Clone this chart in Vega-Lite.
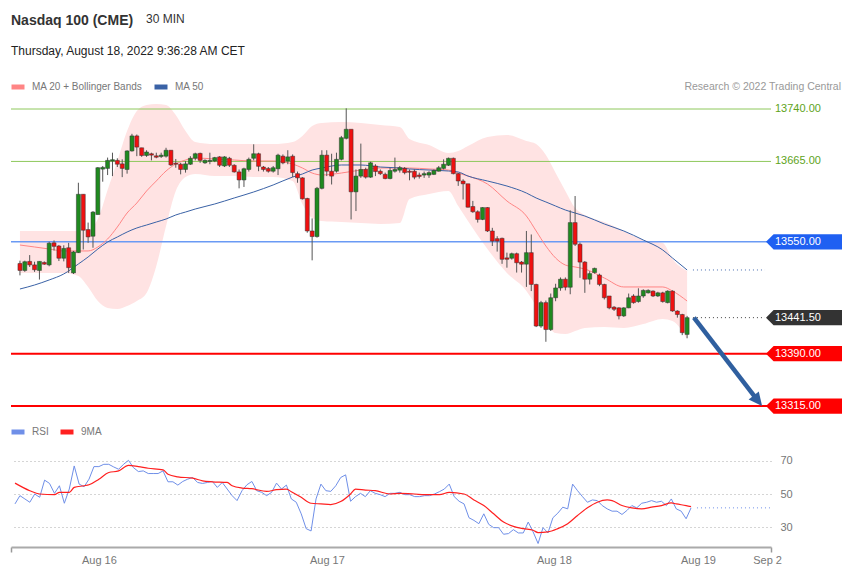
{
"$schema": "https://vega.github.io/schema/vega-lite/v6.json",
"background": "white",
"padding": {"left": 9, "top": 13, "right": 3, "bottom": 5},
"bounds": "flush",
"spacing": 25,
"resolve": {"scale": {"color": "independent"}, "legend": {"color": "independent"}},
"title": {"text": "Research © 2022 Trading Central", "anchor": "end", "frame": "group", "fontSize": 10.5, "fontWeight": "normal", "color": "#999999", "dx": 70, "dy": 79, "offset": 0},
"config": {"font": "Liberation Sans", "view": {"stroke": null}},
"datasets": {
"candles": [
{"i":0,"o":13519,"h":13523,"l":13502,"c":13509},{"i":1,"o":13509,"h":13523,"l":13507,"c":13521.5},{"i":2,"o":13522,"h":13531,"l":13514,"c":13517},{"i":3,"o":13517,"h":13521.5,"l":13507,"c":13510},{"i":4,"o":13509,"h":13522,"l":13496,"c":13522},{"i":5,"o":13520.5,"h":13522,"l":13517,"c":13518},{"i":6,"o":13517,"h":13550,"l":13515,"c":13548},{"i":7,"o":13548.5,"h":13552,"l":13537.5,"c":13543.5},{"i":8,"o":13544,"h":13545.5,"l":13522.5,"c":13526.5},{"i":9,"o":13526.5,"h":13545,"l":13522,"c":13540.5},
{"i":10,"o":13541.5,"h":13548.5,"l":13505.5,"c":13513},{"i":11,"o":13505.5,"h":13537,"l":13504,"c":13535.5},{"i":12,"o":13534.5,"h":13634.5,"l":13534,"c":13618},{"i":13,"o":13618,"h":13618,"l":13539,"c":13566.5},{"i":14,"o":13567.5,"h":13577.5,"l":13548.5,"c":13557},{"i":15,"o":13558,"h":13594,"l":13541.5,"c":13592.5},{"i":16,"o":13589,"h":13657,"l":13589,"c":13656},{"i":17,"o":13654,"h":13658.5,"l":13636,"c":13656.5},{"i":18,"o":13655,"h":13670.5,"l":13645.5,"c":13666.5},{"i":19,"o":13665.5,"h":13677.5,"l":13644,"c":13667.5},
{"i":20,"o":13666.5,"h":13669.5,"l":13657,"c":13661},{"i":21,"o":13661.5,"h":13668,"l":13642.5,"c":13655},{"i":22,"o":13653.5,"h":13681,"l":13647.5,"c":13680},{"i":23,"o":13680,"h":13704.5,"l":13679,"c":13701.5},{"i":24,"o":13701.5,"h":13703.5,"l":13672.5,"c":13685.5},{"i":25,"o":13684.5,"h":13684.5,"l":13671.5,"c":13673.5},{"i":26,"o":13673.5,"h":13681,"l":13671.5,"c":13678.5},{"i":27,"o":13676,"h":13677.5,"l":13666.5,"c":13674},{"i":28,"o":13673,"h":13677.5,"l":13669.5,"c":13671},{"i":29,"o":13672,"h":13677.5,"l":13670,"c":13674},
{"i":30,"o":13672.5,"h":13684.5,"l":13670.5,"c":13681},{"i":31,"o":13681,"h":13681,"l":13658.5,"c":13660},{"i":32,"o":13662.5,"h":13668.5,"l":13656,"c":13661},{"i":33,"o":13661,"h":13663,"l":13646.5,"c":13653.5},{"i":34,"o":13653.5,"h":13665.5,"l":13649,"c":13661.5},{"i":35,"o":13661,"h":13672.5,"l":13660,"c":13669.5},{"i":36,"o":13669.5,"h":13677.5,"l":13666.5,"c":13676},{"i":37,"o":13676.5,"h":13677.5,"l":13663,"c":13666.5},{"i":38,"o":13663,"h":13668,"l":13661.5,"c":13666.5},{"i":39,"o":13665,"h":13677.5,"l":13661,"c":13666.5},
{"i":40,"o":13665.5,"h":13671.5,"l":13664,"c":13670.5},{"i":41,"o":13671.5,"h":13672.5,"l":13657,"c":13659.5},{"i":42,"o":13658.5,"h":13672.5,"l":13657,"c":13671.5},{"i":43,"o":13669.5,"h":13671.5,"l":13657,"c":13659.5},{"i":44,"o":13659.5,"h":13661,"l":13649,"c":13650},{"i":45,"o":13650,"h":13653.5,"l":13626.5,"c":13638.5},{"i":46,"o":13638.5,"h":13656,"l":13628.5,"c":13654.5},{"i":47,"o":13653.5,"h":13670.5,"l":13650.5,"c":13668},{"i":48,"o":13669.5,"h":13689.5,"l":13666.5,"c":13676},{"i":49,"o":13676,"h":13677.5,"l":13651,"c":13658},
{"i":50,"o":13657,"h":13658.5,"l":13650.5,"c":13653.5},{"i":51,"o":13655,"h":13657,"l":13649,"c":13651},{"i":52,"o":13651,"h":13658.5,"l":13649,"c":13656},{"i":53,"o":13654.5,"h":13676,"l":13645.5,"c":13674},{"i":54,"o":13672.5,"h":13675,"l":13661,"c":13663},{"i":55,"o":13665.5,"h":13681,"l":13661,"c":13671.5},{"i":56,"o":13672.5,"h":13675,"l":13642.5,"c":13649},{"i":57,"o":13647.5,"h":13650.5,"l":13634.5,"c":13641.5},{"i":58,"o":13641.5,"h":13642.5,"l":13610.5,"c":13611.5},{"i":59,"o":13612,"h":13613,"l":13563,"c":13565.5},
{"i":60,"o":13565.5,"h":13583.5,"l":13523.5,"c":13557.5},{"i":61,"o":13557.5,"h":13628.5,"l":13556,"c":13626.5},{"i":62,"o":13626.5,"h":13681,"l":13625,"c":13674},{"i":63,"o":13674,"h":13681,"l":13644,"c":13651},{"i":64,"o":13651,"h":13676,"l":13632,"c":13644},{"i":65,"o":13651,"h":13677.5,"l":13649,"c":13668},{"i":66,"o":13668,"h":13701.5,"l":13666.5,"c":13699},{"i":67,"o":13698,"h":13741,"l":13696.5,"c":13711},{"i":68,"o":13711,"h":13711,"l":13582,"c":13621.5},{"i":69,"o":13621.5,"h":13653.5,"l":13594,"c":13644},
{"i":70,"o":13644,"h":13690.5,"l":13641.5,"c":13653.5},{"i":71,"o":13653.5,"h":13656,"l":13640.5,"c":13642.5},{"i":72,"o":13642.5,"h":13664.5,"l":13641.5,"c":13663},{"i":73,"o":13658.5,"h":13661,"l":13644,"c":13650.5},{"i":74,"o":13651,"h":13653.5,"l":13645.5,"c":13647.5},{"i":75,"o":13646.5,"h":13649,"l":13639.5,"c":13640.5},{"i":76,"o":13640.5,"h":13656,"l":13639.5,"c":13652},{"i":77,"o":13651,"h":13670.5,"l":13649,"c":13653.5},{"i":78,"o":13652.5,"h":13658.5,"l":13649,"c":13656},{"i":79,"o":13655,"h":13657,"l":13646.5,"c":13649},
{"i":80,"o":13651,"h":13653.5,"l":13638,"c":13649.5},{"i":81,"o":13651,"h":13653.5,"l":13639.5,"c":13642.5},{"i":82,"o":13645.5,"h":13649,"l":13640.5,"c":13643.5},{"i":83,"o":13645.5,"h":13650.5,"l":13641.5,"c":13647.5},{"i":84,"o":13645.5,"h":13651,"l":13641.5,"c":13649},{"i":85,"o":13646.5,"h":13653.5,"l":13645.5,"c":13652},{"i":86,"o":13651,"h":13658.5,"l":13650.5,"c":13656},{"i":87,"o":13655,"h":13668,"l":13653.5,"c":13661},{"i":88,"o":13659.5,"h":13670.5,"l":13658.5,"c":13669.5},{"i":89,"o":13669.5,"h":13670.5,"l":13646.5,"c":13647.5},
{"i":90,"o":13647.5,"h":13648.5,"l":13630,"c":13637},{"i":91,"o":13637,"h":13639.5,"l":13610.5,"c":13633},{"i":92,"o":13633,"h":13633,"l":13599,"c":13599.5},{"i":93,"o":13600.5,"h":13608.5,"l":13591.5,"c":13593},{"i":94,"o":13593,"h":13595,"l":13577.5,"c":13582},{"i":95,"o":13582,"h":13599.5,"l":13581,"c":13599},{"i":96,"o":13599,"h":13599.5,"l":13564,"c":13565.5},{"i":97,"o":13565.5,"h":13570,"l":13544,"c":13551},{"i":98,"o":13554.5,"h":13558,"l":13536,"c":13551},{"i":99,"o":13555,"h":13556,"l":13518.5,"c":13525},
{"i":100,"o":13527,"h":13534.5,"l":13513,"c":13525},{"i":101,"o":13526.5,"h":13534.5,"l":13524.5,"c":13533},{"i":102,"o":13533,"h":13534.5,"l":13506,"c":13520},{"i":103,"o":13521,"h":13522.5,"l":13506,"c":13518},{"i":104,"o":13518,"h":13565.5,"l":13485.5,"c":13534.5},{"i":105,"o":13534.5,"h":13560.5,"l":13479.5,"c":13489},{"i":106,"o":13489,"h":13490,"l":13428,"c":13429.5},{"i":107,"o":13429.5,"h":13465.5,"l":13427,"c":13463},{"i":108,"o":13463,"h":13466,"l":13407,"c":13424.5},{"i":109,"o":13424.5,"h":13476,"l":13422.5,"c":13470},
{"i":110,"o":13470,"h":13490,"l":13465,"c":13484},{"i":111,"o":13484,"h":13499,"l":13480,"c":13496.5},{"i":112,"o":13496.5,"h":13499,"l":13480.5,"c":13485},{"i":113,"o":13485,"h":13595,"l":13475,"c":13577.5},{"i":114,"o":13577.5,"h":13615.5,"l":13544,"c":13546.5},{"i":115,"o":13546.5,"h":13549,"l":13498.5,"c":13521},{"i":116,"o":13521,"h":13522.5,"l":13477,"c":13496.5},{"i":117,"o":13496.5,"h":13508,"l":13489,"c":13504.5},{"i":118,"o":13506,"h":13513,"l":13504.5,"c":13512},{"i":119,"o":13502.5,"h":13504.5,"l":13486.5,"c":13489},
{"i":120,"o":13489,"h":13490,"l":13467.5,"c":13470},{"i":121,"o":13472.5,"h":13472.5,"l":13453.5,"c":13455.5},{"i":122,"o":13456.5,"h":13458,"l":13451,"c":13453.5},{"i":123,"o":13455.5,"h":13456.5,"l":13439,"c":13444},{"i":124,"o":13444,"h":13456.5,"l":13442.5,"c":13455.5},{"i":125,"o":13455.5,"h":13476,"l":13455,"c":13470},{"i":126,"o":13472.5,"h":13475,"l":13461.5,"c":13463},{"i":127,"o":13464.5,"h":13483.5,"l":13463,"c":13472.5},{"i":128,"o":13472.5,"h":13482,"l":13470,"c":13480.5},{"i":129,"o":13477,"h":13482,"l":13476,"c":13480.5},
{"i":130,"o":13479.5,"h":13480.5,"l":13471,"c":13472.5},{"i":131,"o":13472.5,"h":13478.5,"l":13471,"c":13477},{"i":132,"o":13477,"h":13478.5,"l":13463,"c":13464.5},{"i":133,"o":13463,"h":13480.5,"l":13462,"c":13479.5},{"i":134,"o":13479.5,"h":13480.5,"l":13450,"c":13451},{"i":135,"o":13451,"h":13452,"l":13441.5,"c":13446},{"i":136,"o":13446,"h":13447,"l":13416.5,"c":13420},{"i":137,"o":13417.5,"h":13444,"l":13412,"c":13441.5}
],
"ind": [
{"i":0,"up":13565.5,"lo":13505.4,"ma20":13545.4,"ma50":13482.5},{"i":3,"up":13565.5,"lo":13505.4,"ma20":13542.6,"ma50":13488.2},{"i":6,"up":13565.5,"lo":13505.4,"ma20":13539.7,"ma50":13495.4},{"i":9,"up":13565.5,"lo":13505.4,"ma20":13536.9,"ma50":13504},{"i":12,"up":13565.5,"lo":13501.1,"ma20":13536.9,"ma50":13518.3},{"i":14,"up":13566.9,"lo":13485.4,"ma20":13536.9,"ma50":13528.3},{"i":16,"up":13582.6,"lo":13465.3,"ma20":13542.6,"ma50":13539.7},{"i":18,"up":13624.1,"lo":13455.3,"ma20":13554,"ma50":13549.7},{"i":20,"up":13665.6,"lo":13453.9,"ma20":13571.2,"ma50":13556.9},{"i":22,"up":13708.5,"lo":13458.2,"ma20":13591.2,"ma50":13564},
{"i":24,"up":13737.1,"lo":13465.3,"ma20":13605.5,"ma50":13569.8},{"i":26,"up":13745.7,"lo":13476.8,"ma20":13622.7,"ma50":13574},{"i":28,"up":13747.2,"lo":13515.4,"ma20":13637,"ma50":13578.3},{"i":30,"up":13745.7,"lo":13572.6,"ma20":13651.3,"ma50":13582.6},{"i":32,"up":13731.4,"lo":13622.7,"ma20":13661.3,"ma50":13588.4},{"i":34,"up":13708.5,"lo":13642.7,"ma20":13667,"ma50":13592.6},{"i":36,"up":13692.8,"lo":13647,"ma20":13669.9,"ma50":13596.9},{"i":40,"up":13689.9,"lo":13644.1,"ma20":13668.5,"ma50":13604.1},{"i":44,"up":13689.9,"lo":13644.1,"ma20":13667,"ma50":13612.7},{"i":48,"up":13689.9,"lo":13642.7,"ma20":13665.6,"ma50":13621.3},
{"i":52,"up":13689.9,"lo":13642.7,"ma20":13665.6,"ma50":13631.3},{"i":56,"up":13692.8,"lo":13637,"ma20":13661.3,"ma50":13642.7},{"i":58,"up":13701.4,"lo":13604.1,"ma20":13655.6,"ma50":13647},{"i":60,"up":13715.7,"lo":13584.1,"ma20":13648.4,"ma50":13652.7},{"i":62,"up":13720,"lo":13579.8,"ma20":13645.6,"ma50":13655.6},{"i":66,"up":13721.4,"lo":13578.3,"ma20":13648.4,"ma50":13659.9},{"i":70,"up":13720,"lo":13576.9,"ma20":13652.7,"ma50":13659.9},{"i":74,"up":13717.1,"lo":13575.5,"ma20":13655.6,"ma50":13657},{"i":78,"up":13714.2,"lo":13576.9,"ma20":13655.6,"ma50":13655.6},{"i":80,"up":13697.1,"lo":13611.2,"ma20":13655.6,"ma50":13654.2},
{"i":84,"up":13688.5,"lo":13618.4,"ma20":13654.2,"ma50":13652.7},{"i":88,"up":13677.1,"lo":13622.7,"ma20":13652.7,"ma50":13651.3},{"i":90,"up":13679.9,"lo":13601.2,"ma20":13648.4,"ma50":13649.9},{"i":92,"up":13687.1,"lo":13579.8,"ma20":13644.1,"ma50":13644.1},{"i":96,"up":13699.9,"lo":13539.7,"ma20":13632.7,"ma50":13637},{"i":100,"up":13702.8,"lo":13505.4,"ma20":13608.4,"ma50":13629.8},{"i":104,"up":13694.2,"lo":13479.6,"ma20":13586.9,"ma50":13619.8},{"i":106,"up":13689.9,"lo":13458.2,"ma20":13565.5,"ma50":13612.7},{"i":108,"up":13674.2,"lo":13433.9,"ma20":13544,"ma50":13607},{"i":110,"up":13648.4,"lo":13419.5,"ma20":13526.8,"ma50":13601.2},
{"i":112,"up":13622.7,"lo":13418.1,"ma20":13516.8,"ma50":13595.5},{"i":114,"up":13598.4,"lo":13422.4,"ma20":13514,"ma50":13591.2},{"i":116,"up":13588.4,"lo":13426.7,"ma20":13511.1,"ma50":13586.9},{"i":120,"up":13578.3,"lo":13428.1,"ma20":13498.2,"ma50":13575.5},{"i":124,"up":13565.5,"lo":13426.7,"ma20":13485.4,"ma50":13565.5},{"i":128,"up":13552.6,"lo":13432.4,"ma20":13485.4,"ma50":13552.6},{"i":132,"up":13548.3,"lo":13439.6,"ma20":13485.4,"ma50":13538.3},{"i":134,"up":13525.4,"lo":13436.7,"ma20":13479.6,"ma50":13526.8},{"i":137,"up":13508.2,"lo":13411,"ma20":13465.3,"ma50":13509.7}
],
"levels": [
{"p":13740,"k":"res"},{"p":13665,"k":"res"},{"p":13550,"k":"pivot"},{"p":13441.5,"k":"last"},{"p":13390,"k":"sup"},{"p":13315,"k":"sup"}
],
"dots": [
{"i1":138.2,"i2":153,"p":13509.7,"k":"ma50"},{"i1":138.2,"i2":153,"p":13441.5,"k":"last"}
],
"arrow": [
{"i1":138.4,"p1":13441.5,"i2":151.4,"p2":13324,"i3":152.4,"p3":13315}
],
"rsi": [
{"i":0,"v":44},{"i":1,"v":49},{"i":2,"v":47},{"i":3,"v":45},{"i":4,"v":50},{"i":5,"v":48},{"i":6,"v":58.4},{"i":7,"v":56.4},{"i":8,"v":50.4},{"i":9,"v":55},
{"i":10,"v":44.4},{"i":11,"v":53},{"i":12,"v":67},{"i":13,"v":56},{"i":14,"v":54.4},{"i":15,"v":59},{"i":16,"v":66.6},{"i":17,"v":66.6},{"i":18,"v":68},{"i":19,"v":68},
{"i":20,"v":66.4},{"i":21,"v":65},{"i":22,"v":68},{"i":23,"v":70.4},{"i":24,"v":66},{"i":25,"v":63.6},{"i":26,"v":64},{"i":27,"v":62.4},{"i":28,"v":62.4},{"i":29,"v":62.4},
{"i":30,"v":64},{"i":31,"v":57.4},{"i":32,"v":57.4},{"i":33,"v":55.4},{"i":34,"v":57.6},{"i":35,"v":59},{"i":36,"v":60},{"i":37,"v":57},{"i":38,"v":56.4},{"i":39,"v":57},
{"i":40,"v":57.6},{"i":41,"v":54},{"i":42,"v":57},{"i":43,"v":53},{"i":44,"v":49},{"i":45,"v":46},{"i":46,"v":52},{"i":47,"v":55.6},{"i":48,"v":57.6},{"i":49,"v":52},
{"i":50,"v":51},{"i":51,"v":49},{"i":52,"v":51},{"i":53,"v":56.6},{"i":54,"v":53},{"i":55,"v":55.4},{"i":56,"v":47},{"i":57,"v":45},{"i":58,"v":38},{"i":59,"v":29},
{"i":60,"v":27.6},{"i":61,"v":47},{"i":62,"v":56},{"i":63,"v":52},{"i":64,"v":51.6},{"i":65,"v":55},{"i":66,"v":60},{"i":67,"v":61.6},{"i":68,"v":45.6},{"i":69,"v":48.4},
{"i":70,"v":50.4},{"i":71,"v":48.4},{"i":72,"v":52},{"i":73,"v":50.4},{"i":74,"v":49.6},{"i":75,"v":48.4},{"i":76,"v":50.4},{"i":77,"v":50.4},{"i":78,"v":51},{"i":79,"v":49.6},
{"i":80,"v":49.6},{"i":81,"v":48.4},{"i":82,"v":48.4},{"i":83,"v":49},{"i":84,"v":49},{"i":85,"v":50},{"i":86,"v":51.4},{"i":87,"v":53},{"i":88,"v":56},{"i":89,"v":48.4},
{"i":90,"v":45.6},{"i":91,"v":44},{"i":92,"v":35.6},{"i":93,"v":34},{"i":94,"v":32},{"i":95,"v":38},{"i":96,"v":31.6},{"i":97,"v":29.6},{"i":98,"v":29.6},{"i":99,"v":25.6},
{"i":100,"v":26},{"i":101,"v":28.4},{"i":102,"v":26.4},{"i":103,"v":26.4},{"i":104,"v":33},{"i":105,"v":27},{"i":106,"v":20},{"i":107,"v":29.6},{"i":108,"v":26.4},{"i":109,"v":35.6},
{"i":110,"v":38.4},{"i":111,"v":42},{"i":112,"v":41},{"i":113,"v":56},{"i":114,"v":52},{"i":115,"v":48.4},{"i":116,"v":45},{"i":117,"v":46.4},{"i":118,"v":46},{"i":119,"v":43},
{"i":120,"v":41},{"i":121,"v":39.6},{"i":122,"v":39.6},{"i":123,"v":37.6},{"i":124,"v":40},{"i":125,"v":43},{"i":126,"v":41.6},{"i":127,"v":44.4},{"i":128,"v":45},{"i":129,"v":46},
{"i":130,"v":45},{"i":131,"v":45.6},{"i":132,"v":43},{"i":133,"v":47},{"i":134,"v":41},{"i":135,"v":39.6},{"i":136,"v":35},{"i":137,"v":41.6}
],
"ma9": [
{"i":0,"v":56.6},{"i":3,"v":52},{"i":5,"v":50},{"i":8,"v":49.6},{"i":9,"v":51},{"i":11,"v":51},{"i":12,"v":54},{"i":14,"v":55},{"i":15,"v":55.6},{"i":17,"v":59},
{"i":19,"v":63},{"i":21,"v":64},{"i":23,"v":67.4},{"i":25,"v":66.6},{"i":27,"v":65.6},{"i":30,"v":64.6},{"i":31,"v":62},{"i":33,"v":60.4},{"i":36,"v":59.6},{"i":38,"v":58},
{"i":40,"v":57.4},{"i":43,"v":57},{"i":44,"v":55},{"i":46,"v":53.6},{"i":48,"v":53.2},{"i":51,"v":51.6},{"i":53,"v":52.6},{"i":55,"v":53},{"i":56,"v":51.4},{"i":58,"v":48},
{"i":60,"v":44.4},{"i":62,"v":44},{"i":64,"v":43.6},{"i":66,"v":45.4},{"i":68,"v":50},{"i":69,"v":53},{"i":71,"v":52.4},{"i":73,"v":52},{"i":76,"v":50},{"i":78,"v":50.4},
{"i":81,"v":50},{"i":83,"v":49.6},{"i":86,"v":49.6},{"i":88,"v":51},{"i":91,"v":50},{"i":93,"v":46.4},{"i":95,"v":43},{"i":97,"v":38},{"i":99,"v":33},{"i":101,"v":30.4},
{"i":103,"v":29},{"i":105,"v":28},{"i":106,"v":26.6},{"i":108,"v":27},{"i":110,"v":29},{"i":112,"v":32},{"i":114,"v":37},{"i":116,"v":41.6},{"i":118,"v":45},{"i":120,"v":46.4},
{"i":121,"v":46},{"i":123,"v":43},{"i":125,"v":41.6},{"i":127,"v":41},{"i":129,"v":42},{"i":131,"v":43},{"i":133,"v":44.6},{"i":134,"v":44},{"i":136,"v":43},{"i":137,"v":42.4}
],
"rsidots": [{"i1":138.2,"i2":153,"v":41.6}]
},
"vconcat": [
{
"width": 760, "height": 320,
"title": {"text": "Nasdaq 100 (CME)", "subtitle": "Thursday, August 18, 2022 9:36:28 AM CET", "anchor": "start", "frame": "group", "fontSize": 14, "fontWeight": "bold", "color": "#333333", "subtitleFontSize": 12, "subtitleColor": "#222222", "subtitlePadding": 18, "offset": 21},
"layer": [
{"data": {"name": "ind"}, "mark": {"type": "area", "color": "#ffe3e3", "opacity": 1, "interpolate": "monotone"},
 "encoding": {"x": {"field": "i", "type": "quantitative", "scale": {"domain": [-0.81, 153.2], "nice": false, "zero": false}, "axis": null},
  "y": {"field": "up", "type": "quantitative", "scale": {"domain": [13300.8, 13758.6], "nice": false, "zero": false}, "axis": null},
  "y2": {"field": "lo"}}},
{"data": {"name": "levels"}, "transform": [{"filter": "datum.k != 'last'"}], "mark": {"type": "rule"},
 "encoding": {"y": {"field": "p", "type": "quantitative", "scale": {"domain": [13300.8, 13758.6], "nice": false, "zero": false}, "axis": null},
  "stroke": {"field": "k", "type": "nominal", "scale": {"domain": ["res", "pivot", "sup"], "range": ["#8ec85c", "#6a9af4", "#ff0000"]}, "legend": null},
  "strokeWidth": {"field": "k", "type": "nominal", "scale": {"type": "ordinal", "domain": ["res", "pivot", "sup"], "range": [1, 1.5, 2]}, "legend": null}}},
{"data": {"name": "ind"}, "mark": {"type": "line", "strokeWidth": 1, "interpolate": "monotone"},
 "encoding": {"x": {"field": "i", "type": "quantitative"}, "y": {"field": "ma20", "type": "quantitative"},
  "color": {"datum": "MA 20 + Bollinger Bands", "type": "nominal", "scale": {"domain": ["MA 20 + Bollinger Bands", "MA 50"], "range": ["#ff8585", "#3a62a6"]},
   "legend": {"title": null, "orient": "none", "legendX": -2, "legendY": -18, "padding": 0, "direction": "horizontal", "symbolType": "stroke", "symbolSize": 169, "symbolStrokeWidth": 5, "labelFontSize": 10, "labelColor": "#777777", "labelOffset": 5, "columnPadding": 1}}}},
{"data": {"name": "ind"}, "mark": {"type": "line", "strokeWidth": 1, "interpolate": "monotone"},
 "encoding": {"x": {"field": "i", "type": "quantitative"}, "y": {"field": "ma50", "type": "quantitative"},
  "color": {"datum": "MA 50", "type": "nominal"}}},
{"data": {"name": "candles"}, "mark": {"type": "rule", "color": "#555555", "strokeWidth": 1},
 "encoding": {"x": {"field": "i", "type": "quantitative"}, "y": {"field": "l", "type": "quantitative"}, "y2": {"field": "h"}}},
{"data": {"name": "candles"}, "mark": {"type": "bar", "width": 4, "stroke": "#333333", "strokeWidth": 0.5},
 "encoding": {"x": {"field": "i", "type": "quantitative"}, "y": {"field": "o", "type": "quantitative"}, "y2": {"field": "c"},
  "color": {"condition": {"test": "datum.c >= datum.o", "value": "#1f8a1f"}, "value": "#f01010"}}},
{"data": {"name": "dots"}, "mark": {"type": "rule", "strokeDash": [1, 3], "strokeWidth": 1},
 "encoding": {"x": {"field": "i1", "type": "quantitative"}, "x2": {"field": "i2"}, "y": {"field": "p", "type": "quantitative"},
  "color": {"condition": {"test": "datum.k == 'ma50'", "value": "#4a6fb0"}, "value": "#444444"}}},
{"data": {"name": "arrow"}, "mark": {"type": "rule", "color": "#2f5f9f", "strokeWidth": 4.5},
 "encoding": {"x": {"field": "i1", "type": "quantitative"}, "x2": {"field": "i2"}, "y": {"field": "p1", "type": "quantitative"}, "y2": {"field": "p2"}}},
{"data": {"name": "arrow"}, "mark": {"type": "point", "shape": "M0,0 L-0.48,1 L0.48,1 Z", "size": 729, "angle": 141.6, "filled": true, "color": "#2f5f9f", "opacity": 1, "strokeWidth": 0},
 "encoding": {"x": {"field": "i3", "type": "quantitative"}, "y": {"field": "p3", "type": "quantitative"}}},
{"data": {"name": "levels"}, "transform": [{"filter": "datum.k != 'res'"}], "mark": {"type": "point", "shape": "M0,0 L0.2,-0.2 L2,-0.2 L2,0.2 L0.2,0.2 Z", "size": 5776, "filled": true, "opacity": 1, "strokeWidth": 0},
 "encoding": {"x": {"datum": 153.2, "type": "quantitative"}, "y": {"field": "p", "type": "quantitative"},
  "fill": {"field": "k", "type": "nominal", "scale": {"domain": ["pivot", "last", "sup"], "range": ["#1f60f2", "#333333", "#ff0000"]}, "legend": null}}},
{"data": {"name": "levels"}, "mark": {"type": "text", "align": "left", "baseline": "middle", "dx": 9, "fontSize": 11},
 "encoding": {"x": {"datum": 153.2, "type": "quantitative"}, "y": {"field": "p", "type": "quantitative"},
  "text": {"field": "p", "type": "quantitative", "format": ".2f"},
  "color": {"condition": {"test": "datum.k == 'res'", "value": "#5ea320"}, "value": "#ffffff"}}}
]
},
{
"width": 760, "height": 106,
"title": {"text": "30 MIN", "anchor": "start", "frame": "group", "fontSize": 12, "fontWeight": "normal", "color": "#333333", "dx": 135, "dy": -397, "offset": 0},
"layer": [
{"data": {"name": "rsi"}, "mark": {"type": "line", "strokeWidth": 1},
 "encoding": {"x": {"field": "i", "type": "quantitative", "scale": {"domain": [-0.81, 153.2], "nice": false, "zero": false},
   "axis": {"orient": "bottom", "values": [-0.81, 17, 63.2, 109.2, 138.4, 152.4, 153.2], "labelExpr": "datum.value < 0 || datum.value > 153 ? '' : datum.value < 20 ? 'Aug 16' : datum.value < 70 ? 'Aug 17' : datum.value < 120 ? 'Aug 18' : datum.value < 145 ? 'Aug 19' : 'Sep 2'", "domainColor": "#aaaaaa", "domainWidth": 2, "tickColor": "#999999", "tickWidth": 1.5, "tickSize": 5, "tickOpacity": {"condition": {"test": "datum.value < 0 || datum.value > 153", "value": 1}, "value": 0}, "labelColor": "#777777", "labelFontSize": 11, "labelPadding": 2, "grid": false, "title": null, "labelFlush": false, "labelOverlap": false, "labelBound": false}},
  "y": {"field": "v", "type": "quantitative", "scale": {"domain": [17.88, 82.12], "nice": false, "zero": false},
   "axis": {"orient": "right", "values": [30, 50, 70], "domain": false, "ticks": false, "grid": true, "gridDash": [1, 3], "gridColor": "#aaaaaa", "labelColor": "#777777", "labelFontSize": 11, "labelPadding": 9, "title": null}},
  "color": {"datum": "RSI", "type": "nominal", "scale": {"domain": ["RSI", "9MA"], "range": ["#6f8fe8", "#ff2020"]},
   "legend": {"title": null, "orient": "none", "legendX": -2, "legendY": -18, "padding": 0, "direction": "horizontal", "symbolType": "stroke", "symbolSize": 169, "symbolStrokeWidth": 5, "labelFontSize": 10, "labelColor": "#777777", "labelOffset": 5, "columnPadding": 1}}}},
{"data": {"name": "ma9"}, "mark": {"type": "line", "strokeWidth": 1.2, "interpolate": "monotone"},
 "encoding": {"x": {"field": "i", "type": "quantitative"}, "y": {"field": "v", "type": "quantitative"}, "color": {"datum": "9MA", "type": "nominal"}}},
{"data": {"name": "rsidots"}, "mark": {"type": "rule", "strokeDash": [1, 3], "strokeWidth": 1, "color": "#6f8fe8"},
 "encoding": {"x": {"field": "i1", "type": "quantitative"}, "x2": {"field": "i2"}, "y": {"field": "v", "type": "quantitative"}}}
]
}
]
}
